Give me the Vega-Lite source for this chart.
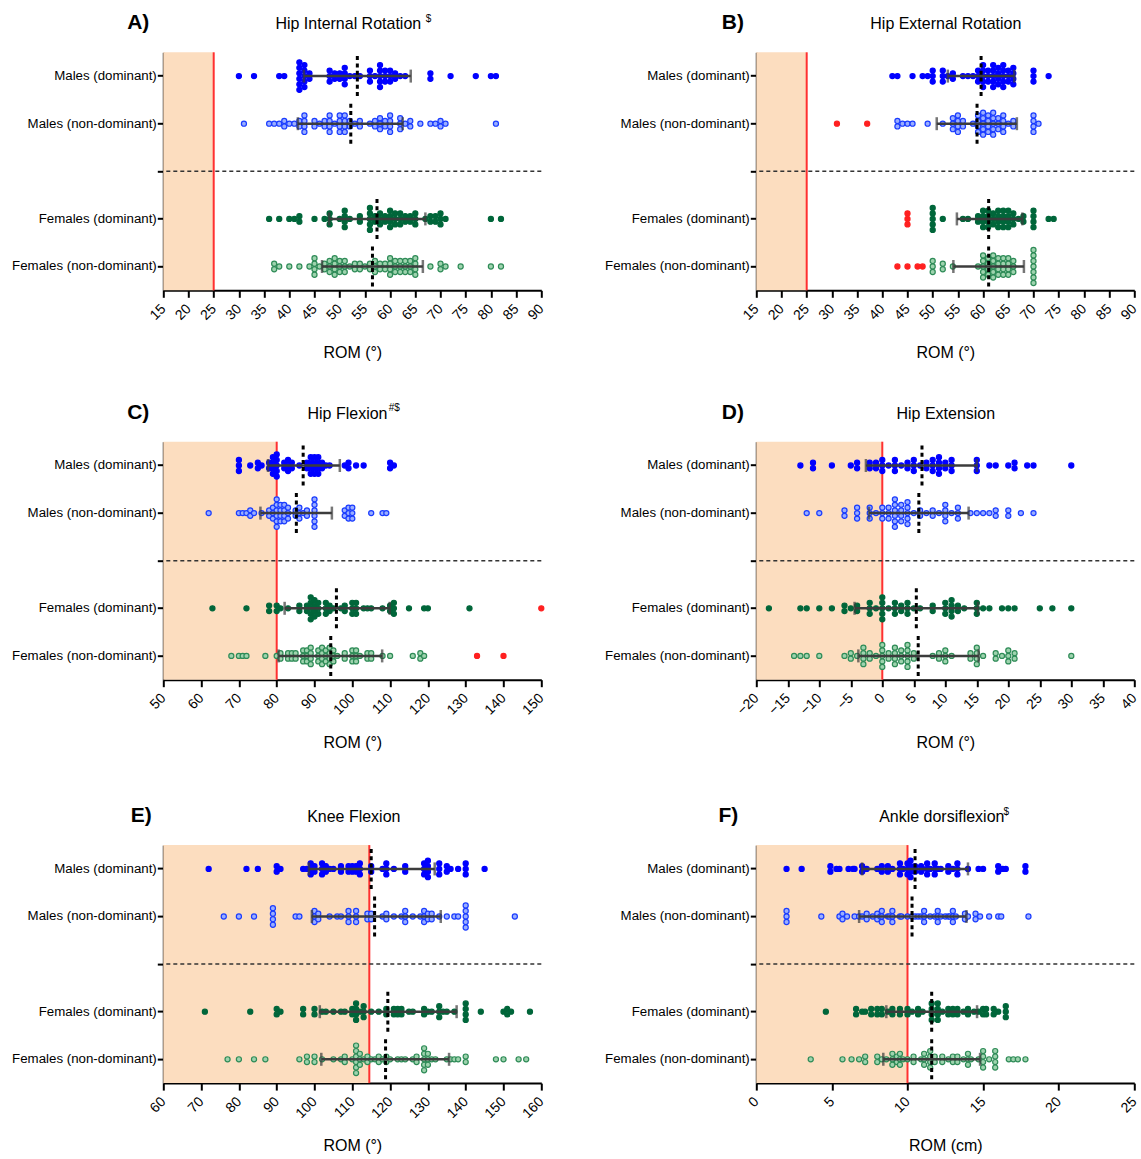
{
"$schema":"https://vega.github.io/schema/vega-lite/v6.json",
"background":"white",
"padding":{"left":8.3,"top":7.3,"right":0,"bottom":0},
"config":{"view":{"stroke":null},"font":"Liberation Sans",
"axis":{"domainColor":"#000","domainWidth":2,"tickColor":"#000","tickWidth":2,"tickSize":7,"labelColor":"#000","titleColor":"#000","labelFont":"Liberation Sans","titleFont":"Liberation Sans","labelFontSize":14,"titleFontSize":16,"titleFontWeight":"normal","grid":false,"labelPadding":2}},
"datasets":{
"A":[{"g":"Md","v":30},{"g":"Md","v":33},{"g":"Md","v":38},{"g":"Md","v":39},{"g":"Md","v":42},{"g":"Md","v":42},{"g":"Md","v":42},{"g":"Md","v":42},{"g":"Md","v":42},{"g":"Md","v":42},{"g":"Md","v":43},{"g":"Md","v":43},{"g":"Md","v":43},{"g":"Md","v":43},{"g":"Md","v":43},{"g":"Md","v":44},{"g":"Md","v":44},{"g":"Md","v":48},{"g":"Md","v":48},{"g":"Md","v":48},{"g":"Md","v":49},{"g":"Md","v":49},{"g":"Md","v":50},{"g":"Md","v":50},{"g":"Md","v":51},{"g":"Md","v":51},{"g":"Md","v":51},{"g":"Md","v":51},{"g":"Md","v":52},{"g":"Md","v":53},{"g":"Md","v":54},{"g":"Md","v":56},{"g":"Md","v":56},{"g":"Md","v":56},{"g":"Md","v":57},{"g":"Md","v":58},{"g":"Md","v":58},{"g":"Md","v":58},{"g":"Md","v":58},{"g":"Md","v":58},{"g":"Md","v":59},{"g":"Md","v":59},{"g":"Md","v":59},{"g":"Md","v":60},{"g":"Md","v":60},{"g":"Md","v":60},{"g":"Md","v":61},{"g":"Md","v":61},{"g":"Md","v":62},{"g":"Md","v":63},{"g":"Md","v":68},{"g":"Md","v":68},{"g":"Md","v":72},{"g":"Md","v":77},{"g":"Md","v":80},{"g":"Md","v":81},
{"g":"Mn","v":31},{"g":"Mn","v":36},{"g":"Mn","v":37},{"g":"Mn","v":38},{"g":"Mn","v":39},{"g":"Mn","v":39},{"g":"Mn","v":40},{"g":"Mn","v":41},{"g":"Mn","v":42},{"g":"Mn","v":42},{"g":"Mn","v":43},{"g":"Mn","v":43},{"g":"Mn","v":43},{"g":"Mn","v":43},{"g":"Mn","v":45},{"g":"Mn","v":45},{"g":"Mn","v":46},{"g":"Mn","v":47},{"g":"Mn","v":47},{"g":"Mn","v":48},{"g":"Mn","v":48},{"g":"Mn","v":48},{"g":"Mn","v":48},{"g":"Mn","v":49},{"g":"Mn","v":50},{"g":"Mn","v":50},{"g":"Mn","v":50},{"g":"Mn","v":50},{"g":"Mn","v":51},{"g":"Mn","v":51},{"g":"Mn","v":51},{"g":"Mn","v":51},{"g":"Mn","v":52},{"g":"Mn","v":52},{"g":"Mn","v":53},{"g":"Mn","v":54},{"g":"Mn","v":54},{"g":"Mn","v":56},{"g":"Mn","v":57},{"g":"Mn","v":57},{"g":"Mn","v":58},{"g":"Mn","v":58},{"g":"Mn","v":58},{"g":"Mn","v":59},{"g":"Mn","v":59},{"g":"Mn","v":60},{"g":"Mn","v":60},{"g":"Mn","v":60},{"g":"Mn","v":60},{"g":"Mn","v":62},{"g":"Mn","v":62},{"g":"Mn","v":62},{"g":"Mn","v":63},{"g":"Mn","v":64},{"g":"Mn","v":64},{"g":"Mn","v":66},{"g":"Mn","v":68},{"g":"Mn","v":69},{"g":"Mn","v":70},{"g":"Mn","v":70},{"g":"Mn","v":71},{"g":"Mn","v":81},
{"g":"Fd","v":36},{"g":"Fd","v":38},{"g":"Fd","v":40},{"g":"Fd","v":41},{"g":"Fd","v":42},{"g":"Fd","v":42},{"g":"Fd","v":45},{"g":"Fd","v":47},{"g":"Fd","v":48},{"g":"Fd","v":48},{"g":"Fd","v":48},{"g":"Fd","v":50},{"g":"Fd","v":51},{"g":"Fd","v":51},{"g":"Fd","v":51},{"g":"Fd","v":51},{"g":"Fd","v":52},{"g":"Fd","v":54},{"g":"Fd","v":54},{"g":"Fd","v":56},{"g":"Fd","v":56},{"g":"Fd","v":56},{"g":"Fd","v":56},{"g":"Fd","v":56},{"g":"Fd","v":57},{"g":"Fd","v":57},{"g":"Fd","v":58},{"g":"Fd","v":58},{"g":"Fd","v":58},{"g":"Fd","v":59},{"g":"Fd","v":59},{"g":"Fd","v":60},{"g":"Fd","v":60},{"g":"Fd","v":60},{"g":"Fd","v":60},{"g":"Fd","v":61},{"g":"Fd","v":61},{"g":"Fd","v":61},{"g":"Fd","v":62},{"g":"Fd","v":62},{"g":"Fd","v":62},{"g":"Fd","v":63},{"g":"Fd","v":63},{"g":"Fd","v":64},{"g":"Fd","v":64},{"g":"Fd","v":65},{"g":"Fd","v":65},{"g":"Fd","v":65},{"g":"Fd","v":67},{"g":"Fd","v":68},{"g":"Fd","v":68},{"g":"Fd","v":69},{"g":"Fd","v":69},{"g":"Fd","v":70},{"g":"Fd","v":70},{"g":"Fd","v":70},{"g":"Fd","v":71},{"g":"Fd","v":80},{"g":"Fd","v":82},
{"g":"Fn","v":37},{"g":"Fn","v":37},{"g":"Fn","v":38},{"g":"Fn","v":40},{"g":"Fn","v":42},{"g":"Fn","v":44},{"g":"Fn","v":45},{"g":"Fn","v":45},{"g":"Fn","v":45},{"g":"Fn","v":45},{"g":"Fn","v":46},{"g":"Fn","v":47},{"g":"Fn","v":47},{"g":"Fn","v":48},{"g":"Fn","v":48},{"g":"Fn","v":48},{"g":"Fn","v":49},{"g":"Fn","v":49},{"g":"Fn","v":49},{"g":"Fn","v":49},{"g":"Fn","v":50},{"g":"Fn","v":50},{"g":"Fn","v":50},{"g":"Fn","v":51},{"g":"Fn","v":51},{"g":"Fn","v":51},{"g":"Fn","v":52},{"g":"Fn","v":53},{"g":"Fn","v":53},{"g":"Fn","v":54},{"g":"Fn","v":54},{"g":"Fn","v":55},{"g":"Fn","v":56},{"g":"Fn","v":56},{"g":"Fn","v":57},{"g":"Fn","v":57},{"g":"Fn","v":57},{"g":"Fn","v":58},{"g":"Fn","v":58},{"g":"Fn","v":59},{"g":"Fn","v":59},{"g":"Fn","v":60},{"g":"Fn","v":60},{"g":"Fn","v":60},{"g":"Fn","v":60},{"g":"Fn","v":61},{"g":"Fn","v":61},{"g":"Fn","v":61},{"g":"Fn","v":62},{"g":"Fn","v":62},{"g":"Fn","v":62},{"g":"Fn","v":63},{"g":"Fn","v":63},{"g":"Fn","v":63},{"g":"Fn","v":64},{"g":"Fn","v":64},{"g":"Fn","v":64},{"g":"Fn","v":65},{"g":"Fn","v":65},{"g":"Fn","v":65},{"g":"Fn","v":65},{"g":"Fn","v":68},{"g":"Fn","v":70},{"g":"Fn","v":70},{"g":"Fn","v":71},{"g":"Fn","v":74},{"g":"Fn","v":80},{"g":"Fn","v":82}],
"B":[{"g":"Md","v":42},{"g":"Md","v":43},{"g":"Md","v":46},{"g":"Md","v":48},{"g":"Md","v":49},{"g":"Md","v":50},{"g":"Md","v":50},{"g":"Md","v":50},{"g":"Md","v":52},{"g":"Md","v":52},{"g":"Md","v":52},{"g":"Md","v":53},{"g":"Md","v":54},{"g":"Md","v":54},{"g":"Md","v":56},{"g":"Md","v":57},{"g":"Md","v":58},{"g":"Md","v":59},{"g":"Md","v":59},{"g":"Md","v":59},{"g":"Md","v":60},{"g":"Md","v":60},{"g":"Md","v":60},{"g":"Md","v":60},{"g":"Md","v":60},{"g":"Md","v":61},{"g":"Md","v":61},{"g":"Md","v":61},{"g":"Md","v":62},{"g":"Md","v":62},{"g":"Md","v":62},{"g":"Md","v":62},{"g":"Md","v":62},{"g":"Md","v":63},{"g":"Md","v":63},{"g":"Md","v":63},{"g":"Md","v":63},{"g":"Md","v":64},{"g":"Md","v":64},{"g":"Md","v":64},{"g":"Md","v":64},{"g":"Md","v":64},{"g":"Md","v":65},{"g":"Md","v":65},{"g":"Md","v":65},{"g":"Md","v":66},{"g":"Md","v":66},{"g":"Md","v":66},{"g":"Md","v":66},{"g":"Md","v":70},{"g":"Md","v":70},{"g":"Md","v":70},{"g":"Md","v":73},
{"g":"Mn","v":31,"o":1},{"g":"Mn","v":37,"o":1},{"g":"Mn","v":43},{"g":"Mn","v":43},{"g":"Mn","v":44},{"g":"Mn","v":45},{"g":"Mn","v":46},{"g":"Mn","v":49},{"g":"Mn","v":52},{"g":"Mn","v":54},{"g":"Mn","v":54},{"g":"Mn","v":54},{"g":"Mn","v":55},{"g":"Mn","v":55},{"g":"Mn","v":55},{"g":"Mn","v":55},{"g":"Mn","v":56},{"g":"Mn","v":56},{"g":"Mn","v":58},{"g":"Mn","v":59},{"g":"Mn","v":59},{"g":"Mn","v":59},{"g":"Mn","v":59},{"g":"Mn","v":60},{"g":"Mn","v":60},{"g":"Mn","v":60},{"g":"Mn","v":60},{"g":"Mn","v":60},{"g":"Mn","v":61},{"g":"Mn","v":61},{"g":"Mn","v":61},{"g":"Mn","v":61},{"g":"Mn","v":62},{"g":"Mn","v":62},{"g":"Mn","v":62},{"g":"Mn","v":62},{"g":"Mn","v":62},{"g":"Mn","v":63},{"g":"Mn","v":63},{"g":"Mn","v":63},{"g":"Mn","v":64},{"g":"Mn","v":64},{"g":"Mn","v":64},{"g":"Mn","v":64},{"g":"Mn","v":65},{"g":"Mn","v":66},{"g":"Mn","v":66},{"g":"Mn","v":70},{"g":"Mn","v":70},{"g":"Mn","v":70},{"g":"Mn","v":70},{"g":"Mn","v":71},
{"g":"Fd","v":45,"o":1},{"g":"Fd","v":45,"o":1},{"g":"Fd","v":45,"o":1},{"g":"Fd","v":50},{"g":"Fd","v":50},{"g":"Fd","v":50},{"g":"Fd","v":50},{"g":"Fd","v":50},{"g":"Fd","v":52},{"g":"Fd","v":56},{"g":"Fd","v":57},{"g":"Fd","v":59},{"g":"Fd","v":59},{"g":"Fd","v":60},{"g":"Fd","v":60},{"g":"Fd","v":60},{"g":"Fd","v":60},{"g":"Fd","v":61},{"g":"Fd","v":61},{"g":"Fd","v":61},{"g":"Fd","v":61},{"g":"Fd","v":62},{"g":"Fd","v":62},{"g":"Fd","v":62},{"g":"Fd","v":63},{"g":"Fd","v":63},{"g":"Fd","v":63},{"g":"Fd","v":63},{"g":"Fd","v":64},{"g":"Fd","v":64},{"g":"Fd","v":64},{"g":"Fd","v":64},{"g":"Fd","v":65},{"g":"Fd","v":65},{"g":"Fd","v":65},{"g":"Fd","v":65},{"g":"Fd","v":66},{"g":"Fd","v":66},{"g":"Fd","v":66},{"g":"Fd","v":67},{"g":"Fd","v":68},{"g":"Fd","v":68},{"g":"Fd","v":70},{"g":"Fd","v":70},{"g":"Fd","v":70},{"g":"Fd","v":70},{"g":"Fd","v":73},{"g":"Fd","v":74},
{"g":"Fn","v":43,"o":1},{"g":"Fn","v":45,"o":1},{"g":"Fn","v":47,"o":1},{"g":"Fn","v":48,"o":1},{"g":"Fn","v":50},{"g":"Fn","v":50},{"g":"Fn","v":50},{"g":"Fn","v":52},{"g":"Fn","v":52},{"g":"Fn","v":54},{"g":"Fn","v":59},{"g":"Fn","v":60},{"g":"Fn","v":60},{"g":"Fn","v":60},{"g":"Fn","v":60},{"g":"Fn","v":60},{"g":"Fn","v":61},{"g":"Fn","v":61},{"g":"Fn","v":61},{"g":"Fn","v":61},{"g":"Fn","v":62},{"g":"Fn","v":62},{"g":"Fn","v":62},{"g":"Fn","v":62},{"g":"Fn","v":62},{"g":"Fn","v":63},{"g":"Fn","v":63},{"g":"Fn","v":63},{"g":"Fn","v":63},{"g":"Fn","v":64},{"g":"Fn","v":64},{"g":"Fn","v":64},{"g":"Fn","v":64},{"g":"Fn","v":65},{"g":"Fn","v":65},{"g":"Fn","v":65},{"g":"Fn","v":65},{"g":"Fn","v":66},{"g":"Fn","v":66},{"g":"Fn","v":66},{"g":"Fn","v":70},{"g":"Fn","v":70},{"g":"Fn","v":70},{"g":"Fn","v":70},{"g":"Fn","v":70},{"g":"Fn","v":70},{"g":"Fn","v":70}],
"C":[{"g":"Md","v":70},{"g":"Md","v":70},{"g":"Md","v":70},{"g":"Md","v":73},{"g":"Md","v":75},{"g":"Md","v":75},{"g":"Md","v":76},{"g":"Md","v":78},{"g":"Md","v":78},{"g":"Md","v":79},{"g":"Md","v":79},{"g":"Md","v":79},{"g":"Md","v":79},{"g":"Md","v":80},{"g":"Md","v":80},{"g":"Md","v":80},{"g":"Md","v":80},{"g":"Md","v":80},{"g":"Md","v":82},{"g":"Md","v":82},{"g":"Md","v":83},{"g":"Md","v":83},{"g":"Md","v":83},{"g":"Md","v":84},{"g":"Md","v":84},{"g":"Md","v":86},{"g":"Md","v":88},{"g":"Md","v":88},{"g":"Md","v":89},{"g":"Md","v":89},{"g":"Md","v":89},{"g":"Md","v":89},{"g":"Md","v":90},{"g":"Md","v":90},{"g":"Md","v":90},{"g":"Md","v":90},{"g":"Md","v":91},{"g":"Md","v":91},{"g":"Md","v":91},{"g":"Md","v":91},{"g":"Md","v":92},{"g":"Md","v":92},{"g":"Md","v":93},{"g":"Md","v":94},{"g":"Md","v":98},{"g":"Md","v":99},{"g":"Md","v":99},{"g":"Md","v":101},{"g":"Md","v":103},{"g":"Md","v":110},{"g":"Md","v":110},{"g":"Md","v":111},
{"g":"Mn","v":62},{"g":"Mn","v":70},{"g":"Mn","v":71},{"g":"Mn","v":72},{"g":"Mn","v":73},{"g":"Mn","v":73},{"g":"Mn","v":74},{"g":"Mn","v":76},{"g":"Mn","v":78},{"g":"Mn","v":78},{"g":"Mn","v":79},{"g":"Mn","v":79},{"g":"Mn","v":79},{"g":"Mn","v":80},{"g":"Mn","v":80},{"g":"Mn","v":80},{"g":"Mn","v":80},{"g":"Mn","v":80},{"g":"Mn","v":80},{"g":"Mn","v":81},{"g":"Mn","v":81},{"g":"Mn","v":81},{"g":"Mn","v":81},{"g":"Mn","v":82},{"g":"Mn","v":82},{"g":"Mn","v":82},{"g":"Mn","v":82},{"g":"Mn","v":83},{"g":"Mn","v":83},{"g":"Mn","v":83},{"g":"Mn","v":85},{"g":"Mn","v":85},{"g":"Mn","v":86},{"g":"Mn","v":86},{"g":"Mn","v":86},{"g":"Mn","v":87},{"g":"Mn","v":88},{"g":"Mn","v":88},{"g":"Mn","v":90},{"g":"Mn","v":90},{"g":"Mn","v":90},{"g":"Mn","v":90},{"g":"Mn","v":90},{"g":"Mn","v":90},{"g":"Mn","v":98},{"g":"Mn","v":98},{"g":"Mn","v":99},{"g":"Mn","v":99},{"g":"Mn","v":99},{"g":"Mn","v":100},{"g":"Mn","v":100},{"g":"Mn","v":100},{"g":"Mn","v":105},{"g":"Mn","v":108},{"g":"Mn","v":109},
{"g":"Fd","v":63},{"g":"Fd","v":72},{"g":"Fd","v":78},{"g":"Fd","v":78},{"g":"Fd","v":80},{"g":"Fd","v":80},{"g":"Fd","v":81},{"g":"Fd","v":83},{"g":"Fd","v":86},{"g":"Fd","v":86},{"g":"Fd","v":88},{"g":"Fd","v":88},{"g":"Fd","v":89},{"g":"Fd","v":89},{"g":"Fd","v":89},{"g":"Fd","v":89},{"g":"Fd","v":89},{"g":"Fd","v":90},{"g":"Fd","v":90},{"g":"Fd","v":90},{"g":"Fd","v":90},{"g":"Fd","v":91},{"g":"Fd","v":91},{"g":"Fd","v":91},{"g":"Fd","v":93},{"g":"Fd","v":93},{"g":"Fd","v":93},{"g":"Fd","v":94},{"g":"Fd","v":94},{"g":"Fd","v":95},{"g":"Fd","v":97},{"g":"Fd","v":98},{"g":"Fd","v":98},{"g":"Fd","v":100},{"g":"Fd","v":100},{"g":"Fd","v":100},{"g":"Fd","v":101},{"g":"Fd","v":101},{"g":"Fd","v":101},{"g":"Fd","v":103},{"g":"Fd","v":104},{"g":"Fd","v":105},{"g":"Fd","v":108},{"g":"Fd","v":110},{"g":"Fd","v":110},{"g":"Fd","v":111},{"g":"Fd","v":111},{"g":"Fd","v":111},{"g":"Fd","v":115},{"g":"Fd","v":119},{"g":"Fd","v":120},{"g":"Fd","v":131},{"g":"Fd","v":150,"o":1},
{"g":"Fn","v":68},{"g":"Fn","v":70},{"g":"Fn","v":71},{"g":"Fn","v":72},{"g":"Fn","v":77},{"g":"Fn","v":80},{"g":"Fn","v":81},{"g":"Fn","v":81},{"g":"Fn","v":83},{"g":"Fn","v":83},{"g":"Fn","v":84},{"g":"Fn","v":84},{"g":"Fn","v":85},{"g":"Fn","v":85},{"g":"Fn","v":87},{"g":"Fn","v":87},{"g":"Fn","v":87},{"g":"Fn","v":88},{"g":"Fn","v":88},{"g":"Fn","v":88},{"g":"Fn","v":89},{"g":"Fn","v":89},{"g":"Fn","v":89},{"g":"Fn","v":89},{"g":"Fn","v":91},{"g":"Fn","v":91},{"g":"Fn","v":91},{"g":"Fn","v":92},{"g":"Fn","v":92},{"g":"Fn","v":92},{"g":"Fn","v":92},{"g":"Fn","v":93},{"g":"Fn","v":93},{"g":"Fn","v":93},{"g":"Fn","v":94},{"g":"Fn","v":94},{"g":"Fn","v":94},{"g":"Fn","v":94},{"g":"Fn","v":95},{"g":"Fn","v":95},{"g":"Fn","v":95},{"g":"Fn","v":96},{"g":"Fn","v":98},{"g":"Fn","v":98},{"g":"Fn","v":100},{"g":"Fn","v":100},{"g":"Fn","v":100},{"g":"Fn","v":101},{"g":"Fn","v":101},{"g":"Fn","v":101},{"g":"Fn","v":102},{"g":"Fn","v":104},{"g":"Fn","v":104},{"g":"Fn","v":105},{"g":"Fn","v":105},{"g":"Fn","v":108},{"g":"Fn","v":110},{"g":"Fn","v":116},{"g":"Fn","v":118},{"g":"Fn","v":118},{"g":"Fn","v":119},{"g":"Fn","v":133,"o":1},{"g":"Fn","v":140,"o":1}],
"D":[{"g":"Md","v":-13},{"g":"Md","v":-11},{"g":"Md","v":-11},{"g":"Md","v":-8},{"g":"Md","v":-5},{"g":"Md","v":-4},{"g":"Md","v":-4},{"g":"Md","v":-2},{"g":"Md","v":-2},{"g":"Md","v":-1},{"g":"Md","v":-1},{"g":"Md","v":0},{"g":"Md","v":0},{"g":"Md","v":0},{"g":"Md","v":1},{"g":"Md","v":2},{"g":"Md","v":2},{"g":"Md","v":2},{"g":"Md","v":3},{"g":"Md","v":4},{"g":"Md","v":4},{"g":"Md","v":5},{"g":"Md","v":5},{"g":"Md","v":5},{"g":"Md","v":6},{"g":"Md","v":7},{"g":"Md","v":7},{"g":"Md","v":8},{"g":"Md","v":8},{"g":"Md","v":8},{"g":"Md","v":9},{"g":"Md","v":9},{"g":"Md","v":9},{"g":"Md","v":9},{"g":"Md","v":10},{"g":"Md","v":10},{"g":"Md","v":11},{"g":"Md","v":11},{"g":"Md","v":11},{"g":"Md","v":15},{"g":"Md","v":15},{"g":"Md","v":15},{"g":"Md","v":17},{"g":"Md","v":18},{"g":"Md","v":20},{"g":"Md","v":21},{"g":"Md","v":21},{"g":"Md","v":23},{"g":"Md","v":24},{"g":"Md","v":30},
{"g":"Mn","v":-12},{"g":"Mn","v":-10},{"g":"Mn","v":-6},{"g":"Mn","v":-6},{"g":"Mn","v":-4},{"g":"Mn","v":-4},{"g":"Mn","v":-4},{"g":"Mn","v":-2},{"g":"Mn","v":-2},{"g":"Mn","v":-2},{"g":"Mn","v":-1},{"g":"Mn","v":0},{"g":"Mn","v":0},{"g":"Mn","v":0},{"g":"Mn","v":1},{"g":"Mn","v":1},{"g":"Mn","v":1},{"g":"Mn","v":2},{"g":"Mn","v":2},{"g":"Mn","v":2},{"g":"Mn","v":2},{"g":"Mn","v":2},{"g":"Mn","v":2},{"g":"Mn","v":3},{"g":"Mn","v":3},{"g":"Mn","v":3},{"g":"Mn","v":3},{"g":"Mn","v":4},{"g":"Mn","v":4},{"g":"Mn","v":4},{"g":"Mn","v":4},{"g":"Mn","v":4},{"g":"Mn","v":5},{"g":"Mn","v":6},{"g":"Mn","v":6},{"g":"Mn","v":7},{"g":"Mn","v":8},{"g":"Mn","v":8},{"g":"Mn","v":9},{"g":"Mn","v":10},{"g":"Mn","v":10},{"g":"Mn","v":10},{"g":"Mn","v":10},{"g":"Mn","v":11},{"g":"Mn","v":12},{"g":"Mn","v":12},{"g":"Mn","v":12},{"g":"Mn","v":14},{"g":"Mn","v":15},{"g":"Mn","v":16},{"g":"Mn","v":17},{"g":"Mn","v":18},{"g":"Mn","v":18},{"g":"Mn","v":20},{"g":"Mn","v":20},{"g":"Mn","v":22},{"g":"Mn","v":24},
{"g":"Fd","v":-18},{"g":"Fd","v":-13},{"g":"Fd","v":-12},{"g":"Fd","v":-10},{"g":"Fd","v":-8},{"g":"Fd","v":-6},{"g":"Fd","v":-6},{"g":"Fd","v":-5},{"g":"Fd","v":-4},{"g":"Fd","v":-4},{"g":"Fd","v":-2},{"g":"Fd","v":-2},{"g":"Fd","v":-2},{"g":"Fd","v":-1},{"g":"Fd","v":0},{"g":"Fd","v":0},{"g":"Fd","v":0},{"g":"Fd","v":0},{"g":"Fd","v":0},{"g":"Fd","v":1},{"g":"Fd","v":2},{"g":"Fd","v":2},{"g":"Fd","v":2},{"g":"Fd","v":3},{"g":"Fd","v":3},{"g":"Fd","v":4},{"g":"Fd","v":4},{"g":"Fd","v":4},{"g":"Fd","v":5},{"g":"Fd","v":6},{"g":"Fd","v":8},{"g":"Fd","v":8},{"g":"Fd","v":10},{"g":"Fd","v":10},{"g":"Fd","v":10},{"g":"Fd","v":11},{"g":"Fd","v":11},{"g":"Fd","v":11},{"g":"Fd","v":11},{"g":"Fd","v":12},{"g":"Fd","v":12},{"g":"Fd","v":13},{"g":"Fd","v":15},{"g":"Fd","v":15},{"g":"Fd","v":15},{"g":"Fd","v":16},{"g":"Fd","v":17},{"g":"Fd","v":19},{"g":"Fd","v":20},{"g":"Fd","v":21},{"g":"Fd","v":25},{"g":"Fd","v":27},{"g":"Fd","v":30},
{"g":"Fn","v":-14},{"g":"Fn","v":-13},{"g":"Fn","v":-12},{"g":"Fn","v":-10},{"g":"Fn","v":-6},{"g":"Fn","v":-5},{"g":"Fn","v":-5},{"g":"Fn","v":-4},{"g":"Fn","v":-3},{"g":"Fn","v":-3},{"g":"Fn","v":-3},{"g":"Fn","v":-3},{"g":"Fn","v":-2},{"g":"Fn","v":-2},{"g":"Fn","v":-1},{"g":"Fn","v":0},{"g":"Fn","v":0},{"g":"Fn","v":0},{"g":"Fn","v":0},{"g":"Fn","v":0},{"g":"Fn","v":1},{"g":"Fn","v":1},{"g":"Fn","v":2},{"g":"Fn","v":2},{"g":"Fn","v":2},{"g":"Fn","v":2},{"g":"Fn","v":3},{"g":"Fn","v":3},{"g":"Fn","v":3},{"g":"Fn","v":4},{"g":"Fn","v":4},{"g":"Fn","v":4},{"g":"Fn","v":4},{"g":"Fn","v":4},{"g":"Fn","v":5},{"g":"Fn","v":5},{"g":"Fn","v":8},{"g":"Fn","v":9},{"g":"Fn","v":9},{"g":"Fn","v":10},{"g":"Fn","v":10},{"g":"Fn","v":10},{"g":"Fn","v":11},{"g":"Fn","v":14},{"g":"Fn","v":14},{"g":"Fn","v":15},{"g":"Fn","v":15},{"g":"Fn","v":15},{"g":"Fn","v":15},{"g":"Fn","v":16},{"g":"Fn","v":18},{"g":"Fn","v":18},{"g":"Fn","v":19},{"g":"Fn","v":20},{"g":"Fn","v":20},{"g":"Fn","v":20},{"g":"Fn","v":21},{"g":"Fn","v":21},{"g":"Fn","v":30}],
"E":[{"g":"Md","v":72},{"g":"Md","v":82},{"g":"Md","v":85},{"g":"Md","v":90},{"g":"Md","v":90},{"g":"Md","v":91},{"g":"Md","v":97},{"g":"Md","v":98},{"g":"Md","v":99},{"g":"Md","v":99},{"g":"Md","v":99},{"g":"Md","v":100},{"g":"Md","v":100},{"g":"Md","v":102},{"g":"Md","v":102},{"g":"Md","v":102},{"g":"Md","v":103},{"g":"Md","v":103},{"g":"Md","v":104},{"g":"Md","v":105},{"g":"Md","v":107},{"g":"Md","v":107},{"g":"Md","v":109},{"g":"Md","v":109},{"g":"Md","v":110},{"g":"Md","v":110},{"g":"Md","v":111},{"g":"Md","v":111},{"g":"Md","v":112},{"g":"Md","v":112},{"g":"Md","v":112},{"g":"Md","v":115},{"g":"Md","v":115},{"g":"Md","v":118},{"g":"Md","v":119},{"g":"Md","v":119},{"g":"Md","v":119},{"g":"Md","v":121},{"g":"Md","v":124},{"g":"Md","v":124},{"g":"Md","v":129},{"g":"Md","v":129},{"g":"Md","v":129},{"g":"Md","v":130},{"g":"Md","v":130},{"g":"Md","v":130},{"g":"Md","v":130},{"g":"Md","v":133},{"g":"Md","v":133},{"g":"Md","v":133},{"g":"Md","v":135},{"g":"Md","v":135},{"g":"Md","v":136},{"g":"Md","v":138},{"g":"Md","v":140},{"g":"Md","v":140},{"g":"Md","v":140},{"g":"Md","v":145},
{"g":"Mn","v":76},{"g":"Mn","v":80},{"g":"Mn","v":84},{"g":"Mn","v":89},{"g":"Mn","v":89},{"g":"Mn","v":89},{"g":"Mn","v":89},{"g":"Mn","v":95},{"g":"Mn","v":96},{"g":"Mn","v":100},{"g":"Mn","v":100},{"g":"Mn","v":100},{"g":"Mn","v":101},{"g":"Mn","v":101},{"g":"Mn","v":104},{"g":"Mn","v":106},{"g":"Mn","v":107},{"g":"Mn","v":109},{"g":"Mn","v":109},{"g":"Mn","v":109},{"g":"Mn","v":111},{"g":"Mn","v":111},{"g":"Mn","v":111},{"g":"Mn","v":114},{"g":"Mn","v":114},{"g":"Mn","v":115},{"g":"Mn","v":115},{"g":"Mn","v":118},{"g":"Mn","v":119},{"g":"Mn","v":119},{"g":"Mn","v":121},{"g":"Mn","v":123},{"g":"Mn","v":124},{"g":"Mn","v":124},{"g":"Mn","v":124},{"g":"Mn","v":126},{"g":"Mn","v":128},{"g":"Mn","v":129},{"g":"Mn","v":129},{"g":"Mn","v":129},{"g":"Mn","v":130},{"g":"Mn","v":130},{"g":"Mn","v":131},{"g":"Mn","v":131},{"g":"Mn","v":133},{"g":"Mn","v":135},{"g":"Mn","v":137},{"g":"Mn","v":138},{"g":"Mn","v":140},{"g":"Mn","v":140},{"g":"Mn","v":140},{"g":"Mn","v":140},{"g":"Mn","v":140},{"g":"Mn","v":153},
{"g":"Fd","v":71},{"g":"Fd","v":83},{"g":"Fd","v":90},{"g":"Fd","v":90},{"g":"Fd","v":91},{"g":"Fd","v":97},{"g":"Fd","v":97},{"g":"Fd","v":100},{"g":"Fd","v":100},{"g":"Fd","v":102},{"g":"Fd","v":103},{"g":"Fd","v":105},{"g":"Fd","v":107},{"g":"Fd","v":108},{"g":"Fd","v":110},{"g":"Fd","v":110},{"g":"Fd","v":111},{"g":"Fd","v":111},{"g":"Fd","v":111},{"g":"Fd","v":111},{"g":"Fd","v":112},{"g":"Fd","v":113},{"g":"Fd","v":113},{"g":"Fd","v":113},{"g":"Fd","v":115},{"g":"Fd","v":117},{"g":"Fd","v":119},{"g":"Fd","v":119},{"g":"Fd","v":121},{"g":"Fd","v":121},{"g":"Fd","v":122},{"g":"Fd","v":122},{"g":"Fd","v":123},{"g":"Fd","v":123},{"g":"Fd","v":125},{"g":"Fd","v":126},{"g":"Fd","v":129},{"g":"Fd","v":129},{"g":"Fd","v":130},{"g":"Fd","v":131},{"g":"Fd","v":133},{"g":"Fd","v":133},{"g":"Fd","v":133},{"g":"Fd","v":134},{"g":"Fd","v":135},{"g":"Fd","v":137},{"g":"Fd","v":140},{"g":"Fd","v":140},{"g":"Fd","v":140},{"g":"Fd","v":140},{"g":"Fd","v":144},{"g":"Fd","v":150},{"g":"Fd","v":151},{"g":"Fd","v":151},{"g":"Fd","v":152},{"g":"Fd","v":157},
{"g":"Fn","v":77},{"g":"Fn","v":80},{"g":"Fn","v":84},{"g":"Fn","v":87},{"g":"Fn","v":96},{"g":"Fn","v":98},{"g":"Fn","v":98},{"g":"Fn","v":100},{"g":"Fn","v":100},{"g":"Fn","v":102},{"g":"Fn","v":105},{"g":"Fn","v":107},{"g":"Fn","v":108},{"g":"Fn","v":108},{"g":"Fn","v":110},{"g":"Fn","v":111},{"g":"Fn","v":111},{"g":"Fn","v":111},{"g":"Fn","v":111},{"g":"Fn","v":111},{"g":"Fn","v":111},{"g":"Fn","v":112},{"g":"Fn","v":112},{"g":"Fn","v":112},{"g":"Fn","v":113},{"g":"Fn","v":114},{"g":"Fn","v":114},{"g":"Fn","v":115},{"g":"Fn","v":116},{"g":"Fn","v":117},{"g":"Fn","v":117},{"g":"Fn","v":118},{"g":"Fn","v":119},{"g":"Fn","v":119},{"g":"Fn","v":120},{"g":"Fn","v":122},{"g":"Fn","v":123},{"g":"Fn","v":124},{"g":"Fn","v":126},{"g":"Fn","v":127},{"g":"Fn","v":127},{"g":"Fn","v":129},{"g":"Fn","v":129},{"g":"Fn","v":129},{"g":"Fn","v":129},{"g":"Fn","v":129},{"g":"Fn","v":130},{"g":"Fn","v":130},{"g":"Fn","v":130},{"g":"Fn","v":131},{"g":"Fn","v":132},{"g":"Fn","v":135},{"g":"Fn","v":136},{"g":"Fn","v":137},{"g":"Fn","v":138},{"g":"Fn","v":140},{"g":"Fn","v":140},{"g":"Fn","v":148},{"g":"Fn","v":150},{"g":"Fn","v":154},{"g":"Fn","v":156}],
"F":[{"g":"Md","v":2.0},{"g":"Md","v":3.0},{"g":"Md","v":4.9},{"g":"Md","v":4.9},{"g":"Md","v":5.3},{"g":"Md","v":5.5},{"g":"Md","v":6.1},{"g":"Md","v":6.4},{"g":"Md","v":6.5},{"g":"Md","v":7.0},{"g":"Md","v":7.0},{"g":"Md","v":7.3},{"g":"Md","v":8.0},{"g":"Md","v":8.3},{"g":"Md","v":8.3},{"g":"Md","v":8.7},{"g":"Md","v":8.7},{"g":"Md","v":9.0},{"g":"Md","v":9.5},{"g":"Md","v":9.5},{"g":"Md","v":9.5},{"g":"Md","v":9.7},{"g":"Md","v":10.0},{"g":"Md","v":10.0},{"g":"Md","v":10.0},{"g":"Md","v":10.2},{"g":"Md","v":10.2},{"g":"Md","v":10.2},{"g":"Md","v":10.2},{"g":"Md","v":10.5},{"g":"Md","v":10.5},{"g":"Md","v":10.9},{"g":"Md","v":10.9},{"g":"Md","v":11.0},{"g":"Md","v":11.3},{"g":"Md","v":11.3},{"g":"Md","v":11.3},{"g":"Md","v":11.5},{"g":"Md","v":11.8},{"g":"Md","v":11.8},{"g":"Md","v":11.8},{"g":"Md","v":12.0},{"g":"Md","v":12.2},{"g":"Md","v":12.7},{"g":"Md","v":12.7},{"g":"Md","v":13.0},{"g":"Md","v":13.3},{"g":"Md","v":13.3},{"g":"Md","v":13.3},{"g":"Md","v":14.0},{"g":"Md","v":14.7},{"g":"Md","v":15.0},{"g":"Md","v":16.0},{"g":"Md","v":16.0},{"g":"Md","v":16.3},{"g":"Md","v":16.5},{"g":"Md","v":17.8},{"g":"Md","v":17.8},
{"g":"Mn","v":2.0},{"g":"Mn","v":2.0},{"g":"Mn","v":2.0},{"g":"Mn","v":4.3},{"g":"Mn","v":5.5},{"g":"Mn","v":5.7},{"g":"Mn","v":5.7},{"g":"Mn","v":6.0},{"g":"Mn","v":6.5},{"g":"Mn","v":6.8},{"g":"Mn","v":7.0},{"g":"Mn","v":7.3},{"g":"Mn","v":7.3},{"g":"Mn","v":7.7},{"g":"Mn","v":8.0},{"g":"Mn","v":8.0},{"g":"Mn","v":8.2},{"g":"Mn","v":8.3},{"g":"Mn","v":8.3},{"g":"Mn","v":8.3},{"g":"Mn","v":8.7},{"g":"Mn","v":8.8},{"g":"Mn","v":9.0},{"g":"Mn","v":9.0},{"g":"Mn","v":9.0},{"g":"Mn","v":9.5},{"g":"Mn","v":9.6},{"g":"Mn","v":10.0},{"g":"Mn","v":10.3},{"g":"Mn","v":10.5},{"g":"Mn","v":10.7},{"g":"Mn","v":10.9},{"g":"Mn","v":11.1},{"g":"Mn","v":11.1},{"g":"Mn","v":11.1},{"g":"Mn","v":11.5},{"g":"Mn","v":11.8},{"g":"Mn","v":12.0},{"g":"Mn","v":12.0},{"g":"Mn","v":12.0},{"g":"Mn","v":12.2},{"g":"Mn","v":12.5},{"g":"Mn","v":12.7},{"g":"Mn","v":12.8},{"g":"Mn","v":13.0},{"g":"Mn","v":13.0},{"g":"Mn","v":13.0},{"g":"Mn","v":13.2},{"g":"Mn","v":13.8},{"g":"Mn","v":13.8},{"g":"Mn","v":14.0},{"g":"Mn","v":14.5},{"g":"Mn","v":14.5},{"g":"Mn","v":14.8},{"g":"Mn","v":15.4},{"g":"Mn","v":16.0},{"g":"Mn","v":16.2},{"g":"Mn","v":18.0},
{"g":"Fd","v":4.6},{"g":"Fd","v":6.6},{"g":"Fd","v":6.6},{"g":"Fd","v":7.0},{"g":"Fd","v":7.2},{"g":"Fd","v":7.6},{"g":"Fd","v":7.6},{"g":"Fd","v":8.0},{"g":"Fd","v":8.0},{"g":"Fd","v":8.3},{"g":"Fd","v":8.3},{"g":"Fd","v":8.7},{"g":"Fd","v":9.0},{"g":"Fd","v":9.0},{"g":"Fd","v":9.5},{"g":"Fd","v":9.5},{"g":"Fd","v":10.0},{"g":"Fd","v":10.0},{"g":"Fd","v":10.3},{"g":"Fd","v":10.7},{"g":"Fd","v":10.7},{"g":"Fd","v":11.0},{"g":"Fd","v":11.6},{"g":"Fd","v":11.6},{"g":"Fd","v":11.6},{"g":"Fd","v":11.6},{"g":"Fd","v":12.0},{"g":"Fd","v":12.0},{"g":"Fd","v":12.0},{"g":"Fd","v":12.0},{"g":"Fd","v":12.3},{"g":"Fd","v":12.7},{"g":"Fd","v":12.7},{"g":"Fd","v":13.0},{"g":"Fd","v":13.0},{"g":"Fd","v":13.3},{"g":"Fd","v":13.3},{"g":"Fd","v":13.7},{"g":"Fd","v":14.0},{"g":"Fd","v":14.0},{"g":"Fd","v":14.4},{"g":"Fd","v":14.7},{"g":"Fd","v":15.0},{"g":"Fd","v":15.0},{"g":"Fd","v":15.2},{"g":"Fd","v":15.2},{"g":"Fd","v":15.7},{"g":"Fd","v":15.7},{"g":"Fd","v":15.8},{"g":"Fd","v":16.0},{"g":"Fd","v":16.5},{"g":"Fd","v":16.5},{"g":"Fd","v":16.5},
{"g":"Fn","v":3.6},{"g":"Fn","v":5.7},{"g":"Fn","v":6.3},{"g":"Fn","v":6.8},{"g":"Fn","v":7.2},{"g":"Fn","v":7.2},{"g":"Fn","v":8.0},{"g":"Fn","v":8.0},{"g":"Fn","v":8.3},{"g":"Fn","v":8.6},{"g":"Fn","v":9.0},{"g":"Fn","v":9.0},{"g":"Fn","v":9.0},{"g":"Fn","v":9.3},{"g":"Fn","v":9.3},{"g":"Fn","v":9.5},{"g":"Fn","v":9.5},{"g":"Fn","v":9.5},{"g":"Fn","v":9.7},{"g":"Fn","v":10.0},{"g":"Fn","v":10.4},{"g":"Fn","v":10.4},{"g":"Fn","v":10.9},{"g":"Fn","v":11.1},{"g":"Fn","v":11.1},{"g":"Fn","v":11.1},{"g":"Fn","v":11.5},{"g":"Fn","v":11.5},{"g":"Fn","v":11.5},{"g":"Fn","v":11.5},{"g":"Fn","v":11.8},{"g":"Fn","v":11.8},{"g":"Fn","v":12.3},{"g":"Fn","v":12.3},{"g":"Fn","v":12.7},{"g":"Fn","v":13.0},{"g":"Fn","v":13.0},{"g":"Fn","v":13.3},{"g":"Fn","v":13.3},{"g":"Fn","v":13.7},{"g":"Fn","v":14.0},{"g":"Fn","v":14.0},{"g":"Fn","v":14.0},{"g":"Fn","v":14.2},{"g":"Fn","v":14.7},{"g":"Fn","v":15.0},{"g":"Fn","v":15.0},{"g":"Fn","v":15.0},{"g":"Fn","v":15.0},{"g":"Fn","v":15.4},{"g":"Fn","v":15.8},{"g":"Fn","v":15.8},{"g":"Fn","v":15.8},{"g":"Fn","v":15.8},{"g":"Fn","v":16.7},{"g":"Fn","v":17.0},{"g":"Fn","v":17.3},{"g":"Fn","v":17.8}],
"sA":[{"g":"Md","m":53.5,"lo":42.9,"hi":64.1},{"g":"Mn","m":52.2,"lo":41.7,"hi":62.5},{"g":"Fd","m":57.4,"lo":47.9,"hi":67},{"g":"Fn","m":56.5,"lo":46.5,"hi":66.5}],
"sB":[{"g":"Md","m":59.6,"lo":53,"hi":66.2},{"g":"Mn","m":58.8,"lo":50.8,"hi":66.7},{"g":"Fd","m":61.1,"lo":54.8,"hi":67.8},{"g":"Fn","m":61.1,"lo":54.1,"hi":68.1}],
"sC":[{"g":"Md","m":87,"lo":77.7,"hi":96.7},{"g":"Mn","m":85.2,"lo":75.7,"hi":94.6},{"g":"Fd","m":95.8,"lo":82.1,"hi":109.9},{"g":"Fn","m":94.3,"lo":80.5,"hi":107.9}],
"sD":[{"g":"Md","m":6.3,"lo":-2.6,"hi":15},{"g":"Mn","m":5.8,"lo":-2.1,"hi":13.7},{"g":"Fd","m":5.4,"lo":-4.4,"hi":15.2},{"g":"Fn","m":5.7,"lo":-3.8,"hi":15.3}],
"sE":[{"g":"Md","m":115,"lo":98.5,"hi":131.8},{"g":"Mn","m":115.9,"lo":99.3,"hi":133.4},{"g":"Fd","m":119.4,"lo":101.4,"hi":137.6},{"g":"Fn","m":118.8,"lo":101.8,"hi":135.6}],
"sF":[{"g":"Md","m":10.5,"lo":7,"hi":14},{"g":"Mn","m":10.3,"lo":6.8,"hi":13.9},{"g":"Fd","m":11.6,"lo":8.6,"hi":14.6},{"g":"Fn","m":11.6,"lo":8.4,"hi":14.8}]
},
"columns":2,
"spacing":{"row":26.4,"column":55},
"concat":[
{"width":378,"height":238,"resolve":{"axis":{"x":"independent","y":"independent"}},
"layer":[
{"data":{"values":[{"lo":15,"thr":25}]},"mark":{"type":"rect","color":"#FCDDBF"},
 "encoding":{"x":{"field":"lo","type":"quantitative","scale":{"domain":[15,90],"nice":false,"zero":false},"axis":{"orient":"top","domain":false,"ticks":false,"labels":false,"title":"Hip Internal Rotation","titleX":184.5,"titleY":-23.5,"titleAlign":"center","titleBaseline":"alphabetic","titleFontSize":16,"minExtent":45,"maxExtent":45}},"x2":{"field":"thr"}}},
{"data":{"values":[{"thr":25}]},"mark":{"type":"rule","color":"#FF3030","strokeWidth":2},
 "encoding":{"x":{"field":"thr","type":"quantitative","scale":{"domain":[15,90],"nice":false,"zero":false},"axis":null}}},
{"data":{"values":[{"g":"gap"}]},"mark":{"type":"rule","color":"#333333","strokeWidth":1.5,"strokeDash":[4,3]},
 "encoding":{"y":{"field":"g","type":"nominal","bandPosition":0.5,"scale":{"domain":["Md","Mn","gap","Fd","Fn"],"paddingInner":0.16,"paddingOuter":0.08},"axis":{"orient":"right","domain":false,"ticks":false,"labels":false,"title":"$","titleAngle":0,"titleX":-116,"titleY":-31,"titleAlign":"left","titleBaseline":"alphabetic","titleFontSize":10,"minExtent":0,"maxExtent":0}}}},
{"data":{"name":"A"},"transform":[{"window":[{"op":"row_number","as":"k"},{"op":"count","as":"n"}],"groupby":["g","v"],"frame":[null,null]},{"calculate":"datum.k - 1 - (datum.n - 1) / 2","as":"off"}],
 "mark":{"type":"point","shape":"circle","filled":true,"size":26,"strokeWidth":1.2,"opacity":1},
 "encoding":{"x":{"field":"v","type":"quantitative","scale":{"domain":[15,90],"nice":false,"zero":false},"axis":{"orient":"bottom","values":[15,20,25,30,35,40,45,50,55,60,65,70,75,80,85,90],"labelAngle":-45,"labelAlign":"right","labelBaseline":"middle","labelPadding":9,"title":"ROM (°)","titleX":189,"titleY":67.5,"titleAlign":"center","titleBaseline":"alphabetic","minExtent":80,"maxExtent":80}},
  "y":{"field":"g","type":"nominal","scale":{"domain":["Md","Mn","gap","Fd","Fn"],"paddingInner":0.16,"paddingOuter":0.08},"axis":{"orient":"left","title":"A)","titleAngle":0,"titleX":-36.6,"titleY":-23.5,"titleAlign":"left","titleBaseline":"alphabetic","titleFontSize":21,"titleFontWeight":"bold","labelFontSize":13.3,"labelPadding":1,"tickSize":6,"minExtent":155,"maxExtent":155,"labelExpr":"datum.value=='Md'?'Males (dominant)':datum.value=='Mn'?'Males (non-dominant)':datum.value=='Fd'?'Females (dominant)':datum.value=='Fn'?'Females (non-dominant)':''"}},
  "yOffset":{"field":"off","type":"quantitative","scale":{"domain":[-3.64,3.64],"range":[0,40]}},
  "fill":{"condition":{"test":"datum.o === 1","value":"#FF2020"},"field":"g","type":"nominal","scale":{"domain":["Md","Mn","Fd","Fn"],"range":["#0000FF","#9AAEFF","#00663A","#9ED3AE"]},"legend":null},
  "stroke":{"condition":{"test":"datum.o === 1","value":"#FF2020"},"field":"g","type":"nominal","scale":{"domain":["Md","Mn","Fd","Fn"],"range":["#0000FF","#1A3CFF","#00663A","#2E8B57"]},"legend":null}}},
{"data":{"name":"sA"},"mark":{"type":"rule","color":"#3C3C3C","strokeWidth":2.5},
 "encoding":{"x":{"field":"lo","type":"quantitative","scale":{"domain":[15,90],"nice":false,"zero":false},"axis":null},"x2":{"field":"hi"},"y":{"field":"g","type":"nominal","scale":{"domain":["Md","Mn","gap","Fd","Fn"],"paddingInner":0.16,"paddingOuter":0.08},"axis":null}}},
{"data":{"name":"sA"},"mark":{"type":"tick","orient":"vertical","color":"#3C3C3C","thickness":2.5,"size":13},
 "encoding":{"x":{"field":"lo","type":"quantitative","scale":{"domain":[15,90],"nice":false,"zero":false},"axis":null},"y":{"field":"g","type":"nominal","scale":{"domain":["Md","Mn","gap","Fd","Fn"],"paddingInner":0.16,"paddingOuter":0.08},"axis":null}}},
{"data":{"name":"sA"},"mark":{"type":"tick","orient":"vertical","color":"#3C3C3C","thickness":2.5,"size":13},
 "encoding":{"x":{"field":"hi","type":"quantitative","scale":{"domain":[15,90],"nice":false,"zero":false},"axis":null},"y":{"field":"g","type":"nominal","scale":{"domain":["Md","Mn","gap","Fd","Fn"],"paddingInner":0.16,"paddingOuter":0.08},"axis":null}}},
{"data":{"name":"sA"},"mark":{"type":"rule","color":"#000000","strokeWidth":3,"strokeDash":[4,3.3]},
 "encoding":{"x":{"field":"m","type":"quantitative","scale":{"domain":[15,90],"nice":false,"zero":false},"axis":null},"y":{"field":"g","type":"nominal","bandPosition":1,"scale":{"domain":["Md","Mn","gap","Fd","Fn"],"paddingInner":0.16,"paddingOuter":0.08},"axis":null},"y2":{"field":"g"}}},
{"data":{"name":"sA"},"mark":{"type":"rule","color":"#000000","strokeWidth":3,"strokeDash":[4,3.3]},
 "encoding":{"x":{"field":"m","type":"quantitative","scale":{"domain":[15,90],"nice":false,"zero":false},"axis":null},"y":{"field":"g","type":"nominal","bandPosition":0,"scale":{"domain":["Md","Mn","gap","Fd","Fn"],"paddingInner":0.16,"paddingOuter":0.08},"axis":null},"y2":{"field":"g"}}}
]},
{"width":378,"height":238,"resolve":{"axis":{"x":"independent","y":"independent"}},
"layer":[
{"data":{"values":[{"lo":15,"thr":25}]},"mark":{"type":"rect","color":"#FCDDBF"},
 "encoding":{"x":{"field":"lo","type":"quantitative","scale":{"domain":[15,90],"nice":false,"zero":false},"axis":{"orient":"top","domain":false,"ticks":false,"labels":false,"title":"Hip External Rotation","titleX":189,"titleY":-23.5,"titleAlign":"center","titleBaseline":"alphabetic","titleFontSize":16,"minExtent":45,"maxExtent":45}},"x2":{"field":"thr"}}},
{"data":{"values":[{"thr":25}]},"mark":{"type":"rule","color":"#FF3030","strokeWidth":2},
 "encoding":{"x":{"field":"thr","type":"quantitative","scale":{"domain":[15,90],"nice":false,"zero":false},"axis":null}}},
{"data":{"values":[{"g":"gap"}]},"mark":{"type":"rule","color":"#333333","strokeWidth":1.5,"strokeDash":[4,3]},
 "encoding":{"y":{"field":"g","type":"nominal","bandPosition":0.5,"scale":{"domain":["Md","Mn","gap","Fd","Fn"],"paddingInner":0.16,"paddingOuter":0.08},"axis":null}}},
{"data":{"name":"B"},"transform":[{"window":[{"op":"row_number","as":"k"},{"op":"count","as":"n"}],"groupby":["g","v"],"frame":[null,null]},{"calculate":"datum.k - 1 - (datum.n - 1) / 2","as":"off"}],
 "mark":{"type":"point","shape":"circle","filled":true,"size":26,"strokeWidth":1.2,"opacity":1},
 "encoding":{"x":{"field":"v","type":"quantitative","scale":{"domain":[15,90],"nice":false,"zero":false},"axis":{"orient":"bottom","values":[15,20,25,30,35,40,45,50,55,60,65,70,75,80,85,90],"labelAngle":-45,"labelAlign":"right","labelBaseline":"middle","labelPadding":9,"title":"ROM (°)","titleX":189,"titleY":67.5,"titleAlign":"center","titleBaseline":"alphabetic","minExtent":80,"maxExtent":80}},
  "y":{"field":"g","type":"nominal","scale":{"domain":["Md","Mn","gap","Fd","Fn"],"paddingInner":0.16,"paddingOuter":0.08},"axis":{"orient":"left","title":"B)","titleAngle":0,"titleX":-35,"titleY":-23.5,"titleAlign":"left","titleBaseline":"alphabetic","titleFontSize":21,"titleFontWeight":"bold","labelFontSize":13.3,"labelPadding":1,"tickSize":6,"minExtent":155,"maxExtent":155,"labelExpr":"datum.value=='Md'?'Males (dominant)':datum.value=='Mn'?'Males (non-dominant)':datum.value=='Fd'?'Females (dominant)':datum.value=='Fn'?'Females (non-dominant)':''"}},
  "yOffset":{"field":"off","type":"quantitative","scale":{"domain":[-3.64,3.64],"range":[0,40]}},
  "fill":{"condition":{"test":"datum.o === 1","value":"#FF2020"},"field":"g","type":"nominal","scale":{"domain":["Md","Mn","Fd","Fn"],"range":["#0000FF","#9AAEFF","#00663A","#9ED3AE"]},"legend":null},
  "stroke":{"condition":{"test":"datum.o === 1","value":"#FF2020"},"field":"g","type":"nominal","scale":{"domain":["Md","Mn","Fd","Fn"],"range":["#0000FF","#1A3CFF","#00663A","#2E8B57"]},"legend":null}}},
{"data":{"name":"sB"},"mark":{"type":"rule","color":"#3C3C3C","strokeWidth":2.5},
 "encoding":{"x":{"field":"lo","type":"quantitative","scale":{"domain":[15,90],"nice":false,"zero":false},"axis":null},"x2":{"field":"hi"},"y":{"field":"g","type":"nominal","scale":{"domain":["Md","Mn","gap","Fd","Fn"],"paddingInner":0.16,"paddingOuter":0.08},"axis":null}}},
{"data":{"name":"sB"},"mark":{"type":"tick","orient":"vertical","color":"#3C3C3C","thickness":2.5,"size":13},
 "encoding":{"x":{"field":"lo","type":"quantitative","scale":{"domain":[15,90],"nice":false,"zero":false},"axis":null},"y":{"field":"g","type":"nominal","scale":{"domain":["Md","Mn","gap","Fd","Fn"],"paddingInner":0.16,"paddingOuter":0.08},"axis":null}}},
{"data":{"name":"sB"},"mark":{"type":"tick","orient":"vertical","color":"#3C3C3C","thickness":2.5,"size":13},
 "encoding":{"x":{"field":"hi","type":"quantitative","scale":{"domain":[15,90],"nice":false,"zero":false},"axis":null},"y":{"field":"g","type":"nominal","scale":{"domain":["Md","Mn","gap","Fd","Fn"],"paddingInner":0.16,"paddingOuter":0.08},"axis":null}}},
{"data":{"name":"sB"},"mark":{"type":"rule","color":"#000000","strokeWidth":3,"strokeDash":[4,3.3]},
 "encoding":{"x":{"field":"m","type":"quantitative","scale":{"domain":[15,90],"nice":false,"zero":false},"axis":null},"y":{"field":"g","type":"nominal","bandPosition":1,"scale":{"domain":["Md","Mn","gap","Fd","Fn"],"paddingInner":0.16,"paddingOuter":0.08},"axis":null},"y2":{"field":"g"}}},
{"data":{"name":"sB"},"mark":{"type":"rule","color":"#000000","strokeWidth":3,"strokeDash":[4,3.3]},
 "encoding":{"x":{"field":"m","type":"quantitative","scale":{"domain":[15,90],"nice":false,"zero":false},"axis":null},"y":{"field":"g","type":"nominal","bandPosition":0,"scale":{"domain":["Md","Mn","gap","Fd","Fn"],"paddingInner":0.16,"paddingOuter":0.08},"axis":null},"y2":{"field":"g"}}}
]},
{"width":378,"height":238,"resolve":{"axis":{"x":"independent","y":"independent"}},
"layer":[
{"data":{"values":[{"lo":50,"thr":80}]},"mark":{"type":"rect","color":"#FCDDBF"},
 "encoding":{"x":{"field":"lo","type":"quantitative","scale":{"domain":[50,150],"nice":false,"zero":false},"axis":{"orient":"top","domain":false,"ticks":false,"labels":false,"title":"Hip Flexion","titleX":183.7,"titleY":-23.5,"titleAlign":"center","titleBaseline":"alphabetic","titleFontSize":16,"minExtent":45,"maxExtent":45}},"x2":{"field":"thr"}}},
{"data":{"values":[{"thr":80}]},"mark":{"type":"rule","color":"#FF3030","strokeWidth":2},
 "encoding":{"x":{"field":"thr","type":"quantitative","scale":{"domain":[50,150],"nice":false,"zero":false},"axis":null}}},
{"data":{"values":[{"g":"gap"}]},"mark":{"type":"rule","color":"#333333","strokeWidth":1.5,"strokeDash":[4,3]},
 "encoding":{"y":{"field":"g","type":"nominal","bandPosition":0.5,"scale":{"domain":["Md","Mn","gap","Fd","Fn"],"paddingInner":0.16,"paddingOuter":0.08},"axis":{"orient":"right","domain":false,"ticks":false,"labels":false,"title":"#$","titleAngle":0,"titleX":-153,"titleY":-31,"titleAlign":"left","titleBaseline":"alphabetic","titleFontSize":10,"minExtent":0,"maxExtent":0}}}},
{"data":{"name":"C"},"transform":[{"window":[{"op":"row_number","as":"k"},{"op":"count","as":"n"}],"groupby":["g","v"],"frame":[null,null]},{"calculate":"datum.k - 1 - (datum.n - 1) / 2","as":"off"}],
 "mark":{"type":"point","shape":"circle","filled":true,"size":26,"strokeWidth":1.2,"opacity":1},
 "encoding":{"x":{"field":"v","type":"quantitative","scale":{"domain":[50,150],"nice":false,"zero":false},"axis":{"orient":"bottom","values":[50,60,70,80,90,100,110,120,130,140,150],"labelAngle":-45,"labelAlign":"right","labelBaseline":"middle","labelPadding":9,"title":"ROM (°)","titleX":189,"titleY":67.5,"titleAlign":"center","titleBaseline":"alphabetic","minExtent":93.6,"maxExtent":93.6}},
  "y":{"field":"g","type":"nominal","scale":{"domain":["Md","Mn","gap","Fd","Fn"],"paddingInner":0.16,"paddingOuter":0.08},"axis":{"orient":"left","title":"C)","titleAngle":0,"titleX":-36.6,"titleY":-23.5,"titleAlign":"left","titleBaseline":"alphabetic","titleFontSize":21,"titleFontWeight":"bold","labelFontSize":13.3,"labelPadding":1,"tickSize":6,"minExtent":155,"maxExtent":155,"labelExpr":"datum.value=='Md'?'Males (dominant)':datum.value=='Mn'?'Males (non-dominant)':datum.value=='Fd'?'Females (dominant)':datum.value=='Fn'?'Females (non-dominant)':''"}},
  "yOffset":{"field":"off","type":"quantitative","scale":{"domain":[-3.64,3.64],"range":[0,40]}},
  "fill":{"condition":{"test":"datum.o === 1","value":"#FF2020"},"field":"g","type":"nominal","scale":{"domain":["Md","Mn","Fd","Fn"],"range":["#0000FF","#9AAEFF","#00663A","#9ED3AE"]},"legend":null},
  "stroke":{"condition":{"test":"datum.o === 1","value":"#FF2020"},"field":"g","type":"nominal","scale":{"domain":["Md","Mn","Fd","Fn"],"range":["#0000FF","#1A3CFF","#00663A","#2E8B57"]},"legend":null}}},
{"data":{"name":"sC"},"mark":{"type":"rule","color":"#3C3C3C","strokeWidth":2.5},
 "encoding":{"x":{"field":"lo","type":"quantitative","scale":{"domain":[50,150],"nice":false,"zero":false},"axis":null},"x2":{"field":"hi"},"y":{"field":"g","type":"nominal","scale":{"domain":["Md","Mn","gap","Fd","Fn"],"paddingInner":0.16,"paddingOuter":0.08},"axis":null}}},
{"data":{"name":"sC"},"mark":{"type":"tick","orient":"vertical","color":"#3C3C3C","thickness":2.5,"size":13},
 "encoding":{"x":{"field":"lo","type":"quantitative","scale":{"domain":[50,150],"nice":false,"zero":false},"axis":null},"y":{"field":"g","type":"nominal","scale":{"domain":["Md","Mn","gap","Fd","Fn"],"paddingInner":0.16,"paddingOuter":0.08},"axis":null}}},
{"data":{"name":"sC"},"mark":{"type":"tick","orient":"vertical","color":"#3C3C3C","thickness":2.5,"size":13},
 "encoding":{"x":{"field":"hi","type":"quantitative","scale":{"domain":[50,150],"nice":false,"zero":false},"axis":null},"y":{"field":"g","type":"nominal","scale":{"domain":["Md","Mn","gap","Fd","Fn"],"paddingInner":0.16,"paddingOuter":0.08},"axis":null}}},
{"data":{"name":"sC"},"mark":{"type":"rule","color":"#000000","strokeWidth":3,"strokeDash":[4,3.3]},
 "encoding":{"x":{"field":"m","type":"quantitative","scale":{"domain":[50,150],"nice":false,"zero":false},"axis":null},"y":{"field":"g","type":"nominal","bandPosition":1,"scale":{"domain":["Md","Mn","gap","Fd","Fn"],"paddingInner":0.16,"paddingOuter":0.08},"axis":null},"y2":{"field":"g"}}},
{"data":{"name":"sC"},"mark":{"type":"rule","color":"#000000","strokeWidth":3,"strokeDash":[4,3.3]},
 "encoding":{"x":{"field":"m","type":"quantitative","scale":{"domain":[50,150],"nice":false,"zero":false},"axis":null},"y":{"field":"g","type":"nominal","bandPosition":0,"scale":{"domain":["Md","Mn","gap","Fd","Fn"],"paddingInner":0.16,"paddingOuter":0.08},"axis":null},"y2":{"field":"g"}}}
]},
{"width":378,"height":238,"resolve":{"axis":{"x":"independent","y":"independent"}},
"layer":[
{"data":{"values":[{"lo":-20,"thr":0}]},"mark":{"type":"rect","color":"#FCDDBF"},
 "encoding":{"x":{"field":"lo","type":"quantitative","scale":{"domain":[-20,40],"nice":false,"zero":false},"axis":{"orient":"top","domain":false,"ticks":false,"labels":false,"title":"Hip Extension","titleX":189,"titleY":-23.5,"titleAlign":"center","titleBaseline":"alphabetic","titleFontSize":16,"minExtent":45,"maxExtent":45}},"x2":{"field":"thr"}}},
{"data":{"values":[{"thr":0}]},"mark":{"type":"rule","color":"#FF3030","strokeWidth":2},
 "encoding":{"x":{"field":"thr","type":"quantitative","scale":{"domain":[-20,40],"nice":false,"zero":false},"axis":null}}},
{"data":{"values":[{"g":"gap"}]},"mark":{"type":"rule","color":"#333333","strokeWidth":1.5,"strokeDash":[4,3]},
 "encoding":{"y":{"field":"g","type":"nominal","bandPosition":0.5,"scale":{"domain":["Md","Mn","gap","Fd","Fn"],"paddingInner":0.16,"paddingOuter":0.08},"axis":null}}},
{"data":{"name":"D"},"transform":[{"window":[{"op":"row_number","as":"k"},{"op":"count","as":"n"}],"groupby":["g","v"],"frame":[null,null]},{"calculate":"datum.k - 1 - (datum.n - 1) / 2","as":"off"}],
 "mark":{"type":"point","shape":"circle","filled":true,"size":26,"strokeWidth":1.2,"opacity":1},
 "encoding":{"x":{"field":"v","type":"quantitative","scale":{"domain":[-20,40],"nice":false,"zero":false},"axis":{"orient":"bottom","values":[-20,-15,-10,-5,0,5,10,15,20,25,30,35,40],"labelAngle":-45,"labelAlign":"right","labelBaseline":"middle","labelPadding":9,"title":"ROM (°)","titleX":189,"titleY":67.5,"titleAlign":"center","titleBaseline":"alphabetic","minExtent":93.6,"maxExtent":93.6}},
  "y":{"field":"g","type":"nominal","scale":{"domain":["Md","Mn","gap","Fd","Fn"],"paddingInner":0.16,"paddingOuter":0.08},"axis":{"orient":"left","title":"D)","titleAngle":0,"titleX":-35,"titleY":-23.5,"titleAlign":"left","titleBaseline":"alphabetic","titleFontSize":21,"titleFontWeight":"bold","labelFontSize":13.3,"labelPadding":1,"tickSize":6,"minExtent":155,"maxExtent":155,"labelExpr":"datum.value=='Md'?'Males (dominant)':datum.value=='Mn'?'Males (non-dominant)':datum.value=='Fd'?'Females (dominant)':datum.value=='Fn'?'Females (non-dominant)':''"}},
  "yOffset":{"field":"off","type":"quantitative","scale":{"domain":[-3.64,3.64],"range":[0,40]}},
  "fill":{"condition":{"test":"datum.o === 1","value":"#FF2020"},"field":"g","type":"nominal","scale":{"domain":["Md","Mn","Fd","Fn"],"range":["#0000FF","#9AAEFF","#00663A","#9ED3AE"]},"legend":null},
  "stroke":{"condition":{"test":"datum.o === 1","value":"#FF2020"},"field":"g","type":"nominal","scale":{"domain":["Md","Mn","Fd","Fn"],"range":["#0000FF","#1A3CFF","#00663A","#2E8B57"]},"legend":null}}},
{"data":{"name":"sD"},"mark":{"type":"rule","color":"#3C3C3C","strokeWidth":2.5},
 "encoding":{"x":{"field":"lo","type":"quantitative","scale":{"domain":[-20,40],"nice":false,"zero":false},"axis":null},"x2":{"field":"hi"},"y":{"field":"g","type":"nominal","scale":{"domain":["Md","Mn","gap","Fd","Fn"],"paddingInner":0.16,"paddingOuter":0.08},"axis":null}}},
{"data":{"name":"sD"},"mark":{"type":"tick","orient":"vertical","color":"#3C3C3C","thickness":2.5,"size":13},
 "encoding":{"x":{"field":"lo","type":"quantitative","scale":{"domain":[-20,40],"nice":false,"zero":false},"axis":null},"y":{"field":"g","type":"nominal","scale":{"domain":["Md","Mn","gap","Fd","Fn"],"paddingInner":0.16,"paddingOuter":0.08},"axis":null}}},
{"data":{"name":"sD"},"mark":{"type":"tick","orient":"vertical","color":"#3C3C3C","thickness":2.5,"size":13},
 "encoding":{"x":{"field":"hi","type":"quantitative","scale":{"domain":[-20,40],"nice":false,"zero":false},"axis":null},"y":{"field":"g","type":"nominal","scale":{"domain":["Md","Mn","gap","Fd","Fn"],"paddingInner":0.16,"paddingOuter":0.08},"axis":null}}},
{"data":{"name":"sD"},"mark":{"type":"rule","color":"#000000","strokeWidth":3,"strokeDash":[4,3.3]},
 "encoding":{"x":{"field":"m","type":"quantitative","scale":{"domain":[-20,40],"nice":false,"zero":false},"axis":null},"y":{"field":"g","type":"nominal","bandPosition":1,"scale":{"domain":["Md","Mn","gap","Fd","Fn"],"paddingInner":0.16,"paddingOuter":0.08},"axis":null},"y2":{"field":"g"}}},
{"data":{"name":"sD"},"mark":{"type":"rule","color":"#000000","strokeWidth":3,"strokeDash":[4,3.3]},
 "encoding":{"x":{"field":"m","type":"quantitative","scale":{"domain":[-20,40],"nice":false,"zero":false},"axis":null},"y":{"field":"g","type":"nominal","bandPosition":0,"scale":{"domain":["Md","Mn","gap","Fd","Fn"],"paddingInner":0.16,"paddingOuter":0.08},"axis":null},"y2":{"field":"g"}}}
]},
{"width":378,"height":238,"resolve":{"axis":{"x":"independent","y":"independent"}},
"layer":[
{"data":{"values":[{"lo":60,"thr":114.5}]},"mark":{"type":"rect","color":"#FCDDBF"},
 "encoding":{"x":{"field":"lo","type":"quantitative","scale":{"domain":[60,160],"nice":false,"zero":false},"axis":{"orient":"top","domain":false,"ticks":false,"labels":false,"title":"Knee Flexion","titleX":190,"titleY":-23.5,"titleAlign":"center","titleBaseline":"alphabetic","titleFontSize":16,"minExtent":45,"maxExtent":45}},"x2":{"field":"thr"}}},
{"data":{"values":[{"thr":114.5}]},"mark":{"type":"rule","color":"#FF3030","strokeWidth":2},
 "encoding":{"x":{"field":"thr","type":"quantitative","scale":{"domain":[60,160],"nice":false,"zero":false},"axis":null}}},
{"data":{"values":[{"g":"gap"}]},"mark":{"type":"rule","color":"#333333","strokeWidth":1.5,"strokeDash":[4,3]},
 "encoding":{"y":{"field":"g","type":"nominal","bandPosition":0.5,"scale":{"domain":["Md","Mn","gap","Fd","Fn"],"paddingInner":0.16,"paddingOuter":0.08},"axis":null}}},
{"data":{"name":"E"},"transform":[{"window":[{"op":"row_number","as":"k"},{"op":"count","as":"n"}],"groupby":["g","v"],"frame":[null,null]},{"calculate":"datum.k - 1 - (datum.n - 1) / 2","as":"off"}],
 "mark":{"type":"point","shape":"circle","filled":true,"size":26,"strokeWidth":1.2,"opacity":1},
 "encoding":{"x":{"field":"v","type":"quantitative","scale":{"domain":[60,160],"nice":false,"zero":false},"axis":{"orient":"bottom","values":[60,70,80,90,100,110,120,130,140,150,160],"labelAngle":-45,"labelAlign":"right","labelBaseline":"middle","labelPadding":9,"title":"ROM (°)","titleX":189,"titleY":67.5,"titleAlign":"center","titleBaseline":"alphabetic","minExtent":70,"maxExtent":70}},
  "y":{"field":"g","type":"nominal","scale":{"domain":["Md","Mn","gap","Fd","Fn"],"paddingInner":0.16,"paddingOuter":0.08},"axis":{"orient":"left","title":"E)","titleAngle":0,"titleX":-33,"titleY":-23.5,"titleAlign":"left","titleBaseline":"alphabetic","titleFontSize":21,"titleFontWeight":"bold","labelFontSize":13.3,"labelPadding":1,"tickSize":6,"minExtent":155,"maxExtent":155,"labelExpr":"datum.value=='Md'?'Males (dominant)':datum.value=='Mn'?'Males (non-dominant)':datum.value=='Fd'?'Females (dominant)':datum.value=='Fn'?'Females (non-dominant)':''"}},
  "yOffset":{"field":"off","type":"quantitative","scale":{"domain":[-3.64,3.64],"range":[0,40]}},
  "fill":{"condition":{"test":"datum.o === 1","value":"#FF2020"},"field":"g","type":"nominal","scale":{"domain":["Md","Mn","Fd","Fn"],"range":["#0000FF","#9AAEFF","#00663A","#9ED3AE"]},"legend":null},
  "stroke":{"condition":{"test":"datum.o === 1","value":"#FF2020"},"field":"g","type":"nominal","scale":{"domain":["Md","Mn","Fd","Fn"],"range":["#0000FF","#1A3CFF","#00663A","#2E8B57"]},"legend":null}}},
{"data":{"name":"sE"},"mark":{"type":"rule","color":"#3C3C3C","strokeWidth":2.5},
 "encoding":{"x":{"field":"lo","type":"quantitative","scale":{"domain":[60,160],"nice":false,"zero":false},"axis":null},"x2":{"field":"hi"},"y":{"field":"g","type":"nominal","scale":{"domain":["Md","Mn","gap","Fd","Fn"],"paddingInner":0.16,"paddingOuter":0.08},"axis":null}}},
{"data":{"name":"sE"},"mark":{"type":"tick","orient":"vertical","color":"#3C3C3C","thickness":2.5,"size":13},
 "encoding":{"x":{"field":"lo","type":"quantitative","scale":{"domain":[60,160],"nice":false,"zero":false},"axis":null},"y":{"field":"g","type":"nominal","scale":{"domain":["Md","Mn","gap","Fd","Fn"],"paddingInner":0.16,"paddingOuter":0.08},"axis":null}}},
{"data":{"name":"sE"},"mark":{"type":"tick","orient":"vertical","color":"#3C3C3C","thickness":2.5,"size":13},
 "encoding":{"x":{"field":"hi","type":"quantitative","scale":{"domain":[60,160],"nice":false,"zero":false},"axis":null},"y":{"field":"g","type":"nominal","scale":{"domain":["Md","Mn","gap","Fd","Fn"],"paddingInner":0.16,"paddingOuter":0.08},"axis":null}}},
{"data":{"name":"sE"},"mark":{"type":"rule","color":"#000000","strokeWidth":3,"strokeDash":[4,3.3]},
 "encoding":{"x":{"field":"m","type":"quantitative","scale":{"domain":[60,160],"nice":false,"zero":false},"axis":null},"y":{"field":"g","type":"nominal","bandPosition":1,"scale":{"domain":["Md","Mn","gap","Fd","Fn"],"paddingInner":0.16,"paddingOuter":0.08},"axis":null},"y2":{"field":"g"}}},
{"data":{"name":"sE"},"mark":{"type":"rule","color":"#000000","strokeWidth":3,"strokeDash":[4,3.3]},
 "encoding":{"x":{"field":"m","type":"quantitative","scale":{"domain":[60,160],"nice":false,"zero":false},"axis":null},"y":{"field":"g","type":"nominal","bandPosition":0,"scale":{"domain":["Md","Mn","gap","Fd","Fn"],"paddingInner":0.16,"paddingOuter":0.08},"axis":null},"y2":{"field":"g"}}}
]},
{"width":378,"height":238,"resolve":{"axis":{"x":"independent","y":"independent"}},
"layer":[
{"data":{"values":[{"lo":0,"thr":10}]},"mark":{"type":"rect","color":"#FCDDBF"},
 "encoding":{"x":{"field":"lo","type":"quantitative","scale":{"domain":[0,25],"nice":false,"zero":false},"axis":{"orient":"top","domain":false,"ticks":false,"labels":false,"title":"Ankle dorsiflexion","titleX":185,"titleY":-23.5,"titleAlign":"center","titleBaseline":"alphabetic","titleFontSize":16,"minExtent":45,"maxExtent":45}},"x2":{"field":"thr"}}},
{"data":{"values":[{"thr":10}]},"mark":{"type":"rule","color":"#FF3030","strokeWidth":2},
 "encoding":{"x":{"field":"thr","type":"quantitative","scale":{"domain":[0,25],"nice":false,"zero":false},"axis":null}}},
{"data":{"values":[{"g":"gap"}]},"mark":{"type":"rule","color":"#333333","strokeWidth":1.5,"strokeDash":[4,3]},
 "encoding":{"y":{"field":"g","type":"nominal","bandPosition":0.5,"scale":{"domain":["Md","Mn","gap","Fd","Fn"],"paddingInner":0.16,"paddingOuter":0.08},"axis":{"orient":"right","domain":false,"ticks":false,"labels":false,"title":"$","titleAngle":0,"titleX":-131.3,"titleY":-31,"titleAlign":"left","titleBaseline":"alphabetic","titleFontSize":10,"minExtent":0,"maxExtent":0}}}},
{"data":{"name":"F"},"transform":[{"window":[{"op":"row_number","as":"k"},{"op":"count","as":"n"}],"groupby":["g","v"],"frame":[null,null]},{"calculate":"datum.k - 1 - (datum.n - 1) / 2","as":"off"}],
 "mark":{"type":"point","shape":"circle","filled":true,"size":26,"strokeWidth":1.2,"opacity":1},
 "encoding":{"x":{"field":"v","type":"quantitative","scale":{"domain":[0,25],"nice":false,"zero":false},"axis":{"orient":"bottom","values":[0,5,10,15,20,25],"labelAngle":-45,"labelAlign":"right","labelBaseline":"middle","labelPadding":9,"title":"ROM (cm)","titleX":189,"titleY":67.5,"titleAlign":"center","titleBaseline":"alphabetic","minExtent":70,"maxExtent":70}},
  "y":{"field":"g","type":"nominal","scale":{"domain":["Md","Mn","gap","Fd","Fn"],"paddingInner":0.16,"paddingOuter":0.08},"axis":{"orient":"left","title":"F)","titleAngle":0,"titleX":-38.3,"titleY":-23.5,"titleAlign":"left","titleBaseline":"alphabetic","titleFontSize":21,"titleFontWeight":"bold","labelFontSize":13.3,"labelPadding":1,"tickSize":6,"minExtent":155,"maxExtent":155,"labelExpr":"datum.value=='Md'?'Males (dominant)':datum.value=='Mn'?'Males (non-dominant)':datum.value=='Fd'?'Females (dominant)':datum.value=='Fn'?'Females (non-dominant)':''"}},
  "yOffset":{"field":"off","type":"quantitative","scale":{"domain":[-3.64,3.64],"range":[0,40]}},
  "fill":{"condition":{"test":"datum.o === 1","value":"#FF2020"},"field":"g","type":"nominal","scale":{"domain":["Md","Mn","Fd","Fn"],"range":["#0000FF","#9AAEFF","#00663A","#9ED3AE"]},"legend":null},
  "stroke":{"condition":{"test":"datum.o === 1","value":"#FF2020"},"field":"g","type":"nominal","scale":{"domain":["Md","Mn","Fd","Fn"],"range":["#0000FF","#1A3CFF","#00663A","#2E8B57"]},"legend":null}}},
{"data":{"name":"sF"},"mark":{"type":"rule","color":"#3C3C3C","strokeWidth":2.5},
 "encoding":{"x":{"field":"lo","type":"quantitative","scale":{"domain":[0,25],"nice":false,"zero":false},"axis":null},"x2":{"field":"hi"},"y":{"field":"g","type":"nominal","scale":{"domain":["Md","Mn","gap","Fd","Fn"],"paddingInner":0.16,"paddingOuter":0.08},"axis":null}}},
{"data":{"name":"sF"},"mark":{"type":"tick","orient":"vertical","color":"#3C3C3C","thickness":2.5,"size":13},
 "encoding":{"x":{"field":"lo","type":"quantitative","scale":{"domain":[0,25],"nice":false,"zero":false},"axis":null},"y":{"field":"g","type":"nominal","scale":{"domain":["Md","Mn","gap","Fd","Fn"],"paddingInner":0.16,"paddingOuter":0.08},"axis":null}}},
{"data":{"name":"sF"},"mark":{"type":"tick","orient":"vertical","color":"#3C3C3C","thickness":2.5,"size":13},
 "encoding":{"x":{"field":"hi","type":"quantitative","scale":{"domain":[0,25],"nice":false,"zero":false},"axis":null},"y":{"field":"g","type":"nominal","scale":{"domain":["Md","Mn","gap","Fd","Fn"],"paddingInner":0.16,"paddingOuter":0.08},"axis":null}}},
{"data":{"name":"sF"},"mark":{"type":"rule","color":"#000000","strokeWidth":3,"strokeDash":[4,3.3]},
 "encoding":{"x":{"field":"m","type":"quantitative","scale":{"domain":[0,25],"nice":false,"zero":false},"axis":null},"y":{"field":"g","type":"nominal","bandPosition":1,"scale":{"domain":["Md","Mn","gap","Fd","Fn"],"paddingInner":0.16,"paddingOuter":0.08},"axis":null},"y2":{"field":"g"}}},
{"data":{"name":"sF"},"mark":{"type":"rule","color":"#000000","strokeWidth":3,"strokeDash":[4,3.3]},
 "encoding":{"x":{"field":"m","type":"quantitative","scale":{"domain":[0,25],"nice":false,"zero":false},"axis":null},"y":{"field":"g","type":"nominal","bandPosition":0,"scale":{"domain":["Md","Mn","gap","Fd","Fn"],"paddingInner":0.16,"paddingOuter":0.08},"axis":null},"y2":{"field":"g"}}}
]}
]
}
